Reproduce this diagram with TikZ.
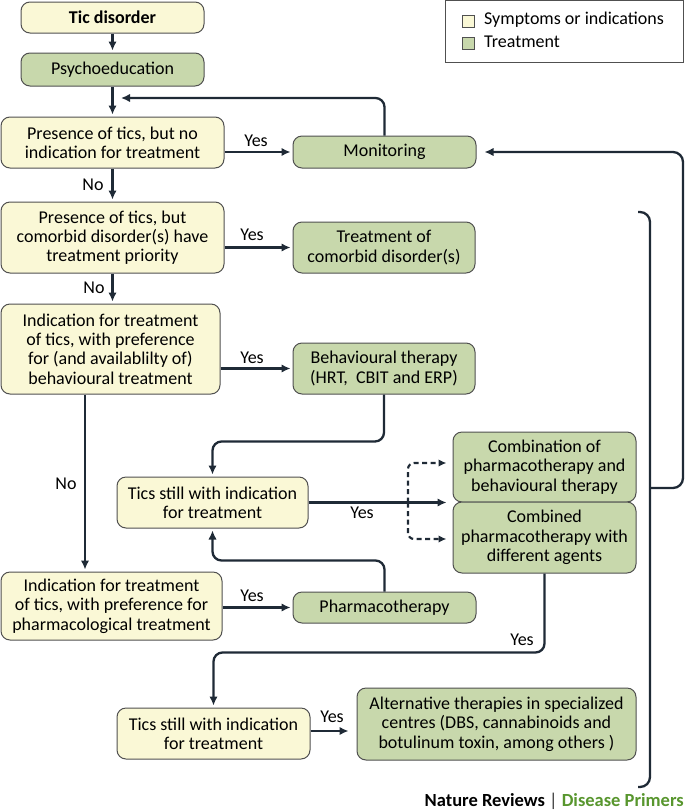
\documentclass[tikz,border=0pt]{standalone}
\usepackage{fontspec}
\setmainfont{Carlito}
\usetikzlibrary{arrows.meta,calc}
\definecolor{symfill}{RGB}{250,248,214}
\definecolor{trtfill}{RGB}{200,216,172}
\definecolor{boxline}{RGB}{80,80,80}
\definecolor{arrline}{RGB}{31,42,54}
\definecolor{primgreen}{RGB}{88,150,46}
\begin{document}
\begin{tikzpicture}[x=1pt,y=-1pt,
  basebox/.style={draw=boxline, line width=1pt, rounded corners=9pt, align=center, inner sep=0pt,
     font=\fontsize{18}{19.3}\selectfont, text=black},
  symbox/.style={basebox, fill=symfill},
  trtbox/.style={basebox, fill=trtfill},
  arr/.style={draw=arrline, line width=2.3pt, -{Latex[length=9pt,width=8.5pt]}, shorten >=2pt},
  plainline/.style={draw=arrline, line width=2.3pt},
  dasharr/.style={draw=arrline, line width=2.1pt, dash pattern=on 5pt off 3.5pt, -{Latex[length=8pt,width=7.5pt]}, shorten >=6pt},
  lab/.style={font=\fontsize{18}{19}\selectfont, inner sep=0pt, text=black},
]
\useasboundingbox (0,0) rectangle (685,812);

% legend
\node[draw=boxline, line width=1pt, minimum width=238, minimum height=62, inner sep=0pt] (legend) at (564,31) {};
\node[draw=boxline, line width=0.8pt, fill=symfill, minimum width=12, minimum height=12, inner sep=0pt] (lsym) at (468,21) {};
\node[draw=boxline, line width=0.8pt, fill=trtfill, minimum width=12, minimum height=12, inner sep=0pt] (ltrt) at (468,43) {};
\node[lab, anchor=west] (lsymt) at (484,20) {Symptoms or indications};
\node[lab, anchor=west] (ltrtt) at (484,42) {Treatment};

% boxes
\node[symbox, minimum width=183, minimum height=31, font=\fontsize{18}{19.3}\selectfont\bfseries] (tic) at (112.5,17.5) {Tic disorder};
\node[trtbox, minimum width=183, minimum height=33] (psy) at (112.5,69.5) {Psychoeducation};
\node[symbox, minimum width=223, minimum height=51] (pres1) at (112.5,142.5) {Presence of tics, but no\\indication for treatment};
\node[trtbox, minimum width=183, minimum height=32] (mon) at (384.5,152) {Monitoring};
\node[symbox, minimum width=223, minimum height=71] (pres2) at (112.5,237.5) {Presence of tics, but\\comorbid disorder(s) have\\treatment priority};
\node[trtbox, minimum width=182, minimum height=51] (comorb) at (384,247.5) {Treatment of\\comorbid disorder(s)};
\node[symbox, minimum width=219, minimum height=90] (ind1) at (110.5,349) {Indication for treatment\\of tics, with preference\\for (and availablilty of)\\behavioural treatment};
\node[trtbox, minimum width=182, minimum height=51] (beh) at (384,368.5) {Behavioural therapy\\(HRT,\ \ CBIT and ERP)};
\node[symbox, minimum width=191, minimum height=51] (tics1) at (212.5,502.5) {Tics still with indication\\for treatment};
\node[trtbox, minimum width=183, minimum height=70] (combo1) at (544.5,467) {Combination of\\pharmacotherapy and\\behavioural therapy};
\node[trtbox, minimum width=183, minimum height=71] (combo2) at (544.5,537.5) {Combined\\pharmacotherapy with\\different agents};
\node[symbox, minimum width=221, minimum height=68] (ind2) at (111.5,606) {Indication for treatment\\of tics, with preference for\\pharmacological treatment};
\node[trtbox, minimum width=183, minimum height=31] (pharm) at (384.5,607.5) {Pharmacotherapy};
\node[symbox, minimum width=193, minimum height=51] (tics2) at (213.5,733.5) {Tics still with indication\\for treatment};
\node[trtbox, minimum width=279, minimum height=72] (alt) at (496.5,724) {Alternative therapies in specialized\\centres (DBS, cannabinoids and\\botulinum toxin, among others )};

% coordinates
\coordinate (lp) at (119,98);
\coordinate (nox) at (85,0);
\coordinate (dj) at (408,502.5);
\coordinate (brT) at (638,212);
\coordinate (brTc) at (650,212);
\coordinate (brBc) at (650,787);
\coordinate (brB) at (638,787);
\coordinate (brM) at (650,488);
\coordinate (rx) at (683,488);

% connectors
\draw[arr] (tic) -- (psy);
\draw[arr] (psy) -- (pres1);
\draw[arr, rounded corners=9pt] (mon.north) |- (lp);
\draw[arr] (pres1.east |- mon.west) -- (mon.west);
\node[lab] (y1) at (256,141) {Yes};
\draw[arr] (pres1) -- (pres2);
\node[lab] (n1) at (93,185) {No};
\draw[arr] (pres2.east |- comorb.west) -- (comorb.west);
\node[lab] (y2) at (252,235) {Yes};
\draw[arr] (pres2.south) -- (pres2.south |- ind1.north);
\node[lab] (n2) at (94,288) {No};
\draw[arr] (ind1.east |- beh.west) -- (beh.west);
\node[lab] (y3) at (252,358) {Yes};
\draw[arr] (ind1.south -| nox) -- (ind2.north -| nox);
\node[lab] (n3) at (66,484) {No};
\draw[arr, rounded corners=9pt] (beh.south) |- ($(tics1.north)+(0,-35)$) -- (tics1.north);
\draw[arr, shorten >=6pt] (tics1.east) -- (tics1.east -| combo1.west);
\draw[dasharr, rounded corners=6pt] (dj) |- ($(combo1.west)+(0,-4)$);
\draw[dasharr, rounded corners=6pt] (dj) |- ($(combo2.west)+(0,1.5)$);
\node[lab] (y4) at (362,513) {Yes};
\draw[arr, rounded corners=9pt] (pharm.north) |- ($(tics1.south)+(0,32)$) -- (tics1.south);
\draw[arr] (ind2.east |- pharm.west) -- (pharm.west);
\node[lab] (y5) at (252,596) {Yes};
\draw[arr, rounded corners=9pt] (combo2.south) |- ($(tics2.north)+(0,-55)$) -- (tics2.north);
\node[lab] (y6) at (522,640) {Yes};
\draw[arr, shorten >=8pt] (tics2.east |- 0,731) -- (alt.west |- 0,731);
\node[lab] (y7) at (332,717) {Yes};
% bracket
\draw[plainline, rounded corners=10pt] (brT) -- (brTc) -- (brBc) -- (brB);
\draw[arr, rounded corners=10pt, shorten >=8pt] (brM) -- (rx) |- (mon.east);

% footer
\node[anchor=base east, inner sep=0pt, font=\fontsize{18.5}{20}\selectfont\bfseries] (foot) at (684,806) {Nature Reviews \textcolor{black!80}{\mdseries|} \textcolor{primgreen}{Disease Primers}};
\end{tikzpicture}
\end{document}
